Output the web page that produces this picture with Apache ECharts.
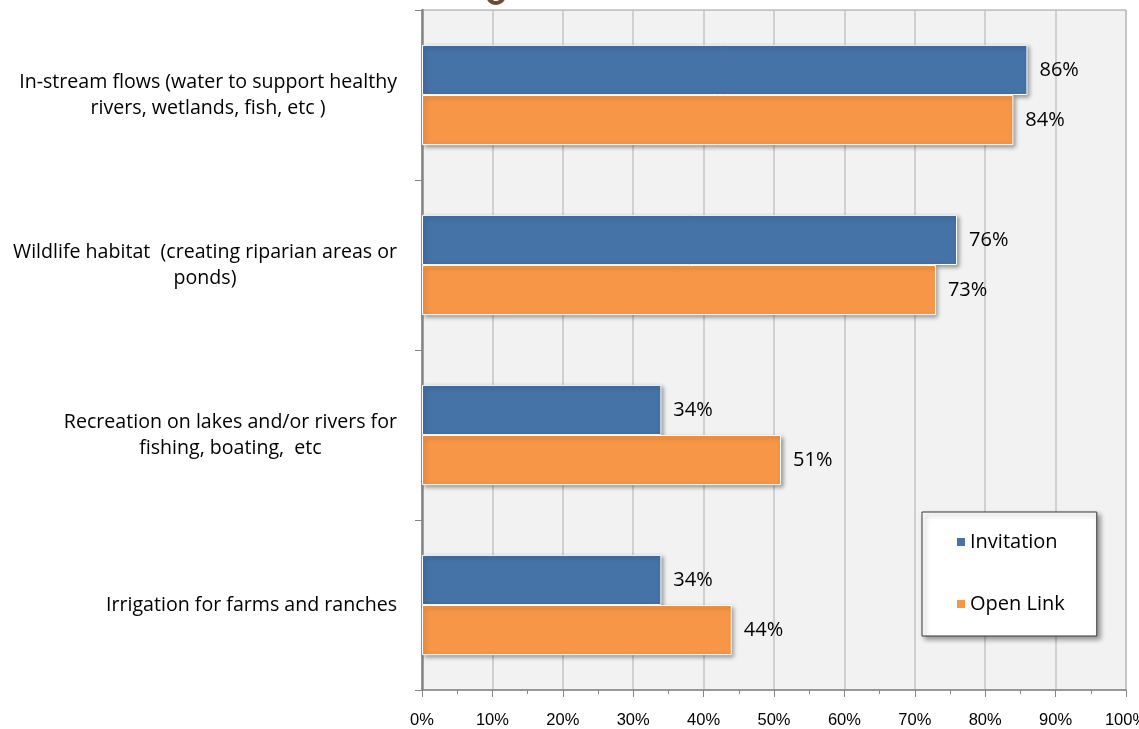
<!DOCTYPE html>
<html>
<head>
<meta charset="utf-8">
<script src="https://cdn.jsdelivr.net/npm/echarts@6/dist/echarts.min.js"></script>
<style>
  html, body { margin: 0; padding: 0; background: #ffffff; }
  #chart { width: 1139px; height: 729px; }
</style>
</head>
<body>
<div id="chart"></div>
<script>
// Uses of water, share of respondents by survey group
const categories = [
  'In-stream flows (water to support healthy\nrivers, wetlands, fish, etc )',
  'Wildlife habitat  (creating riparian areas or\nponds)',
  'Recreation on lakes and/or rivers for\nfishing, boating,  etc',
  'Irrigation for farms and ranches'
];
const seriesNames = ['Invitation', 'Open Link'];
const invitation = [86, 76, 34, 34];
const openLink = [84, 73, 51, 44];
const xTicks = ['0%', '10%', '20%', '30%', '40%', '50%', '60%', '70%', '80%', '90%', '100%'];

const FONT = '"Open Sans", "Liberation Sans", sans-serif';
const AXIS_FONT = '"Liberation Sans Narrow", "Liberation Sans", sans-serif';
const BLUE = '#4572A7';
const ORANGE = '#F79646';

const chart = echarts.init(document.getElementById('chart'), null, { renderer: 'canvas' });

function barSeries(name, values, color) {
  return {
    name: name,
    type: 'bar',
    data: values,
    barGap: '0%',
    barCategoryGap: '41%',
    itemStyle: {
      color: color,
      borderColor: '#ffffff',
      borderWidth: 1,
      shadowColor: 'rgba(0,0,0,0.35)',
      shadowBlur: 4,
      shadowOffsetX: 2,
      shadowOffsetY: 2
    },
    label: {
      show: true,
      position: 'right',
      distance: 12,
      formatter: '{c}%',
      color: '#000000',
      fontFamily: FONT,
      fontSize: 20
    }
  };
}

const option = {
  animation: false,
  backgroundColor: '#ffffff',
  textStyle: { fontFamily: FONT },
  grid: {
    left: 422, right: 13, top: 10, bottom: 39,
    outerBoundsMode: 'none',
    containLabel: false,
    show: true,
    backgroundColor: '#f2f2f2',
    borderColor: '#9a9a9a',
    borderWidth: 1
  },
  legend: {
    orient: 'vertical',
    left: 922,
    top: 512,
    data: seriesNames,
    icon: 'rect',
    itemWidth: 10,
    itemHeight: 10,
    itemGap: 42,
    padding: [20, 32, 22, 33],
    backgroundColor: '#ffffff',
    borderColor: '#3a3a3a',
    borderWidth: 1,
    shadowColor: 'rgba(0,0,0,0.4)',
    shadowBlur: 5,
    shadowOffsetX: 3,
    shadowOffsetY: 3,
    textStyle: { fontFamily: FONT, fontSize: 20, lineHeight: 20, color: '#000000', padding: [0, 0, 0, -1] }
  },
  xAxis: {
    type: 'value',
    min: 0,
    max: 100,
    interval: 10,
    axisLine: { show: true, lineStyle: { color: '#868686', width: 1.5 } },
    axisTick: { show: true, length: 7, lineStyle: { color: '#868686' } },
    minorTick: { show: true, splitNumber: 2, length: 4, lineStyle: { color: '#868686' } },
    splitLine: { show: true, lineStyle: { color: '#c4c4c4', width: 1.5 } },
    axisLabel: {
      margin: 22,
      color: '#000000',
      fontFamily: AXIS_FONT,
      fontSize: 16.5,
      formatter: function (v) { return xTicks[Math.round(v / 10)]; }
    }
  },
  yAxis: {
    type: 'category',
    data: categories,
    inverse: true,
    axisLine: { show: true, lineStyle: { color: '#868686', width: 2.5 } },
    axisTick: { show: true, length: 7, alignWithLabel: false, lineStyle: { color: '#868686' } },
    axisLabel: {
      margin: 25,
      color: '#000000',
      fontFamily: FONT,
      fontSize: 19.6,
      lineHeight: 26,
      formatter: function (v) {
        return v.split('\n').map(function (s) { return '{c|' + s + '}'; }).join('\n');
      },
      rich: {
        c: { align: 'center', fontFamily: FONT, fontSize: 19.6, lineHeight: 26, color: '#000000' }
      }
    }
  },
  graphic: [
    {
      type: 'arc',
      shape: { cx: 496, cy: -5, r: 8, startAngle: 0.2, endAngle: Math.PI - 0.2 },
      style: { stroke: '#6b4a3a', lineWidth: 4, fill: null }
    }
  ],
  series: [
    barSeries(seriesNames[0], invitation, BLUE),
    barSeries(seriesNames[1], openLink, ORANGE)
  ]
};

chart.setOption(option);
</script>
</body>
</html>
